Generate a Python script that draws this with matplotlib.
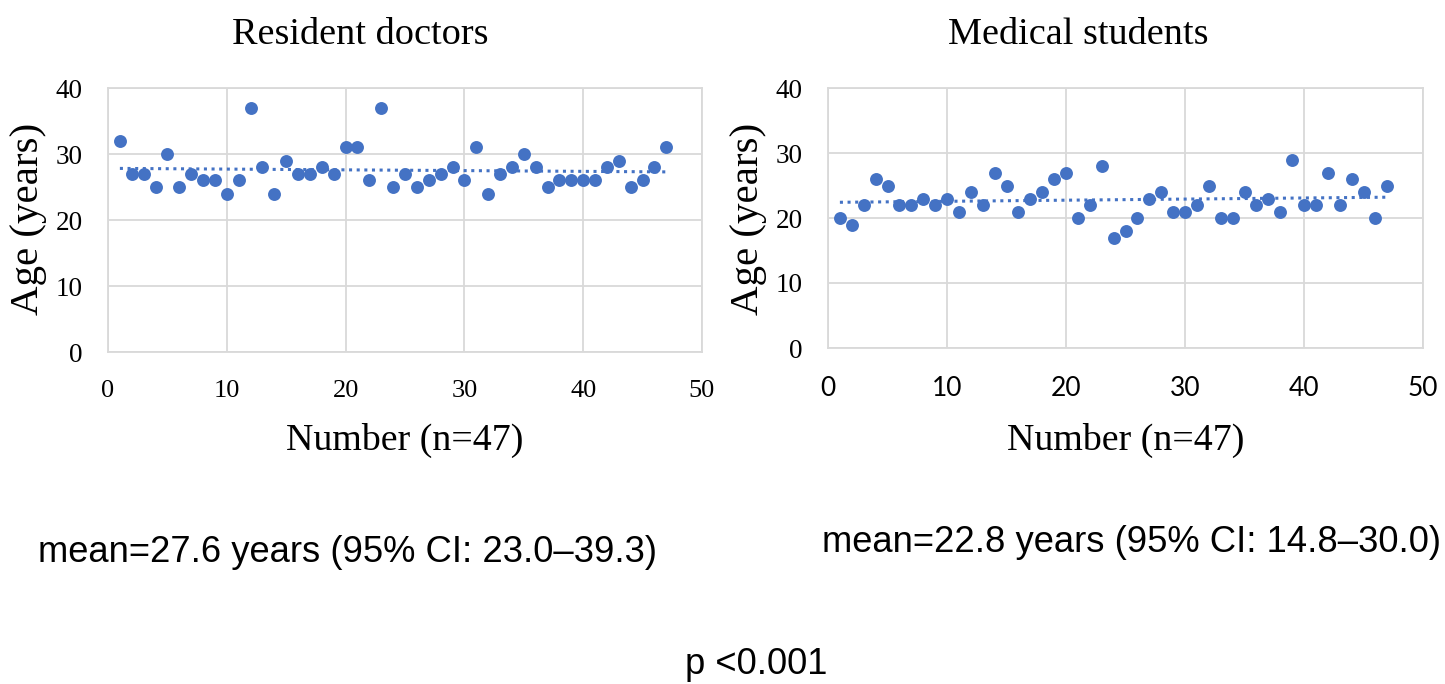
import numpy as np
import matplotlib
matplotlib.use("Agg")
import matplotlib.pyplot as plt

# ---- data ----
number = list(range(1, 48))
resident_age = [32, 27, 27, 25, 30, 25, 27, 26, 26, 24,
                26, 37, 28, 24, 29, 27, 27, 28, 27, 31,
                31, 26, 37, 25, 27, 25, 26, 27, 28, 26,
                31, 24, 27, 28, 30, 28, 25, 26, 26, 26,
                26, 28, 29, 25, 26, 28, 31]
student_age = [20, 19, 22, 26, 25, 22, 22, 23, 22, 23,
               21, 24, 22, 27, 25, 21, 23, 24, 26, 27,
               20, 22, 28, 17, 18, 20, 23, 24, 21, 21,
               22, 25, 20, 20, 24, 22, 23, 21, 29, 22,
               22, 27, 22, 26, 24, 20, 25]
titles = ["Resident doctors", "Medical students"]
x_ticks = [0, 10, 20, 30, 40, 50]
y_ticks = [0, 10, 20, 30, 40]
xlabel = "Number (n=47)"
ylabel = "Age (years)"
notes = ["mean=27.6 years (95% CI: 23.0\u201339.3)",
         "mean=22.8 years (95% CI: 14.8\u201330.0)"]
p_text = "p <0.001"

W, H = 1445, 684
fig = plt.figure(figsize=(W / 100, H / 100), dpi=100)

BLUE = "#4472C4"
GRID = "#D9D9D9"
SERIF = "Liberation Serif"
SANS = "Liberation Sans"

def px(x, y):
    return x / W, 1 - y / H

axes_px = [(108, 88, 702, 352), (828, 88, 1423, 348)]
series = [resident_age, student_age]
xtick_fonts = [SERIF, "Lato"]
xtick_sizes = [19, 19]

for i, (l, t, r, b) in enumerate(axes_px):
    ax = fig.add_axes([l / W, 1 - b / H, (r - l) / W, (b - t) / H])
    y = series[i]
    ax.scatter(number, y, s=9.3 ** 2, color=BLUE, zorder=3, linewidths=0)
    k, c = np.polyfit(number, y, 1)
    xs = np.array([number[0], number[-1]])
    ax.plot(xs, k * xs + c, linestyle=(0, (1, 1.5)), color=BLUE, lw=2.2, zorder=2)
    ax.set_xlim(0, 50)
    ax.set_ylim(0, 40)
    ax.set_xticks(x_ticks, labels=[str(v) for v in x_ticks],
                  fontsize=xtick_sizes[i], fontfamily=xtick_fonts[i])
    ax.set_yticks(y_ticks, labels=[str(v) for v in y_ticks],
                  fontsize=19.5, fontfamily=SERIF)
    ax.grid(True, color=GRID, lw=1.3, zorder=0)
    for s in ax.spines.values():
        s.set_color(GRID)
        s.set_linewidth(1.3)
    ax.tick_params(length=0)
    ax.tick_params(axis="y", pad=18)
    ax.tick_params(axis="x", pad=20)

# titles
fig.text(*px(360, 35), titles[0], ha="center", va="center", fontsize=27.5, family=SERIF)
fig.text(*px(1078, 35), titles[1], ha="center", va="center", fontsize=27.5, family=SERIF)
# x labels
fig.text(*px(405, 440), xlabel, ha="center", va="center", fontsize=27.3, family=SERIF)
fig.text(*px(1126, 440), xlabel, ha="center", va="center", fontsize=27.3, family=SERIF)
# y labels
fig.text(*px(29, 219), ylabel, ha="center", va="center", rotation=90, fontsize=29.5, family=SERIF)
fig.text(*px(749, 219), ylabel, ha="center", va="center", rotation=90, fontsize=29.5, family=SERIF)
# notes
fig.text(*px(347, 553), notes[0], ha="center", va="center", fontsize=26.2, family=SANS)
fig.text(*px(1131, 543), notes[1], ha="center", va="center", fontsize=26.2, family=SANS)
fig.text(*px(756, 665), p_text, ha="center", va="center", fontsize=26.2, family=SANS)

fig.savefig("out.png", dpi=100, facecolor="white")
